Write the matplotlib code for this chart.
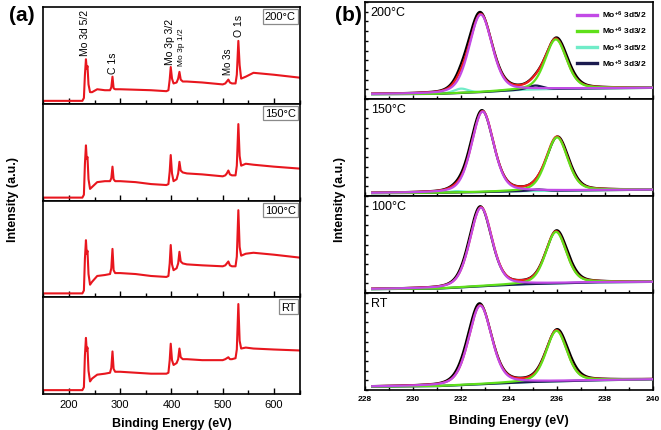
import numpy as np
import matplotlib
matplotlib.use("Agg")
import matplotlib.pyplot as plt
from matplotlib.ticker import MultipleLocator

plt.rcParams['font.family'] = ['Liberation Sans', 'DejaVu Sans']
plt.rcParams['mathtext.fontset'] = 'custom'
plt.rcParams['mathtext.rm'] = 'Liberation Sans:bold'
plt.rcParams['mathtext.it'] = 'Liberation Sans:bold'
plt.rcParams['mathtext.bf'] = 'Liberation Sans:bold'

# ---------------- (a) survey spectra ----------------
survey_labels = ['200°C', '150°C', '100°C', 'RT']
survey_ev = [150, 226, 229, 231, 233, 234.5, 236, 238, 241, 245, 255, 270, 280, 282.5,
             284.8, 287, 290, 300, 330, 360, 390, 394, 396.5, 398.5, 401, 404, 410, 413,
             415.5, 418, 422, 430, 460, 500, 505, 508, 511, 514, 518, 525, 527.5, 530.5,
             533, 536, 545, 560, 600, 650]
survey_200 = [0.03, 0.03, 0.06, 0.30, 0.46, 0.36, 0.39, 0.20, 0.12, 0.12, 0.15, 0.14, 0.14, 0.17,
              0.28, 0.16, 0.15, 0.15, 0.145, 0.14, 0.13, 0.14, 0.25, 0.38, 0.26, 0.21, 0.22, 0.26,
              0.33, 0.25, 0.23, 0.23, 0.22, 0.20, 0.21, 0.23, 0.25, 0.22, 0.21, 0.21, 0.30, 0.65,
              0.40, 0.26, 0.28, 0.32, 0.30, 0.27]
survey_150 = [0.03, 0.03, 0.06, 0.38, 0.57, 0.43, 0.45, 0.22, 0.12, 0.14, 0.19, 0.20, 0.20, 0.23,
              0.35, 0.22, 0.20, 0.20, 0.19, 0.17, 0.16, 0.17, 0.30, 0.47, 0.28, 0.20, 0.22, 0.28,
              0.40, 0.31, 0.29, 0.28, 0.27, 0.25, 0.26, 0.28, 0.31, 0.27, 0.26, 0.26, 0.36, 0.79,
              0.46, 0.36, 0.38, 0.37, 0.35, 0.33]
survey_100 = [0.04, 0.04, 0.07, 0.40, 0.59, 0.45, 0.48, 0.24, 0.13, 0.16, 0.22, 0.23, 0.24, 0.30,
              0.50, 0.28, 0.25, 0.25, 0.24, 0.22, 0.21, 0.22, 0.35, 0.54, 0.34, 0.28, 0.30, 0.35,
              0.47, 0.37, 0.35, 0.34, 0.33, 0.32, 0.33, 0.35, 0.37, 0.33, 0.32, 0.32, 0.42, 0.90,
              0.52, 0.43, 0.45, 0.46, 0.44, 0.41]
survey_rt = [0.04, 0.04, 0.07, 0.40, 0.58, 0.45, 0.48, 0.24, 0.13, 0.16, 0.20, 0.21, 0.22, 0.27,
             0.44, 0.26, 0.23, 0.23, 0.22, 0.21, 0.21, 0.22, 0.35, 0.52, 0.35, 0.30, 0.32, 0.36,
             0.47, 0.38, 0.36, 0.36, 0.35, 0.35, 0.36, 0.37, 0.38, 0.36, 0.36, 0.37, 0.46, 0.93,
             0.55, 0.47, 0.48, 0.47, 0.46, 0.45]
survey_series = [survey_200, survey_150, survey_100, survey_rt]

peak_names = ['Mo 3d 5/2', 'C 1s', 'Mo 3p 3/2', 'Mo 3p 1/2', 'Mo 3s', 'O 1s']
peak_name_ev = [232, 285, 398, 420, 511, 532]
peak_name_y = [0.50, 0.32, 0.41, 0.40, 0.31, 0.70]
peak_name_size = [7.5, 7.5, 7.5, 6, 7, 7.5]

# ---------------- (b) Mo 3d high resolution ----------------
hr_labels = ['200°C', '150°C', '100°C', 'RT']
comp_names = [r'Mo$^{+6}$ 3d5/2', r'Mo$^{+6}$ 3d3/2',
              r'Mo$^{+6}$ 3d5/2', r'Mo$^{+5}$ 3d3/2']
comp_colors = ['#c24ae6', '#5fe01a', '#70ecc8', '#1b1b4f']
# background (Shirley-like step) points per panel
bg_ev = [228.3, 231.0, 232.8, 234.5, 236.0, 237.5, 240.0]
bg_vals = [[0.05, 0.052, 0.07, 0.095, 0.105, 0.11, 0.115],
           [0.03, 0.032, 0.04, 0.05, 0.055, 0.06, 0.065],
           [0.04, 0.045, 0.07, 0.09, 0.10, 0.11, 0.115],
           [0.035, 0.04, 0.06, 0.08, 0.09, 0.10, 0.11]]
# component peak centres (eV), heights above background, FWHM (eV)
comp_center = [[232.82, 235.95, 232.0, 235.1],
               [232.9, 236.0, 231.8, 235.2],
               [232.83, 235.96, 232.0, 235.1],
               [232.8, 235.98, 232.0, 235.1]]
comp_height = [[0.80, 0.51, 0.045, 0.04],
               [0.83, 0.55, 0.015, 0.015],
               [0.81, 0.53, 0.0, 0.0],
               [0.81, 0.52, 0.0, 0.0]]
comp_fwhm = [[1.12, 1.05, 0.7, 0.7],
             [1.08, 1.05, 0.7, 0.7],
             [1.08, 1.02, 0.7, 0.7],
             [1.12, 1.02, 0.7, 0.7]]
# measured data (black) peak parameters
raw_height = [[0.82, 0.52], [0.84, 0.55], [0.82, 0.54], [0.83, 0.53]]
raw_fwhm = [[1.18, 1.10], [1.12, 1.08], [1.1, 1.07], [1.17, 1.09]]

def pvoigt(x, c, h, w, eta=0.3):
    g = np.exp(-4 * np.log(2) * ((x - c) / w) ** 2)
    l = 1.0 / (1.0 + 4 * ((x - c) / w) ** 2)
    return h * ((1 - eta) * g + eta * l)

fig = plt.figure(figsize=(6.61, 4.31), dpi=100)
gl = fig.add_gridspec(4, 1, left=0.0657, right=0.4532, bottom=0.0835, top=0.9814, hspace=0)
gr = fig.add_gridspec(4, 1, left=0.5522, right=0.9879, bottom=0.0928, top=0.993, hspace=0)

for i in range(4):
    ax = fig.add_subplot(gl[i, 0])
    ax.plot(survey_ev, survey_series[i], color='#e8161e', lw=1.5)
    ax.set_xlim(150, 650)
    ax.set_ylim(0, 1)
    ax.set_yticks([])
    ax.xaxis.set_major_locator(MultipleLocator(100))
    ax.xaxis.set_minor_locator(MultipleLocator(50))
    ax.tick_params(axis='x', which='major', direction='in', length=4, width=1, labelsize=8)
    ax.tick_params(axis='x', which='minor', direction='in', length=3, width=1)
    for s in ax.spines.values():
        s.set_linewidth(1.2)
    if i < 3:
        ax.tick_params(axis='x', labelbottom=False)
    ax.text(0.985, 0.955, survey_labels[i], transform=ax.transAxes, ha='right', va='top',
            fontsize=8, bbox=dict(boxstyle='square,pad=0.2', fc='white', ec='#8a8a8a', lw=0.9))
    if i == 0:
        for name, e, y, fs in zip(peak_names, peak_name_ev, peak_name_y, peak_name_size):
            ax.text(e, y, name, rotation=90, ha='center', va='bottom', fontsize=fs)
    if i == 3:
        ax.set_xlabel('Binding Energy (eV)', fontsize=9, fontweight='bold', labelpad=6)

x = np.linspace(228.3, 240.0, 600)
for i in range(4):
    ax = fig.add_subplot(gr[i, 0])
    bg = np.interp(x, bg_ev, bg_vals[i])
    comps = [bg + pvoigt(x, comp_center[i][k], comp_height[i][k], comp_fwhm[i][k]) for k in range(4)]
    env = bg + sum(pvoigt(x, comp_center[i][k], comp_height[i][k], comp_fwhm[i][k]) for k in range(4))
    raw = bg + pvoigt(x, comp_center[i][0] - 0.03, raw_height[i][0], raw_fwhm[i][0]) \
        + pvoigt(x, comp_center[i][1] + 0.03, raw_height[i][1], raw_fwhm[i][1]) \
        + pvoigt(x, comp_center[i][2], comp_height[i][2], comp_fwhm[i][2]) \
        + pvoigt(x, comp_center[i][3], comp_height[i][3], comp_fwhm[i][3])
    ax.plot(x, raw, color='black', lw=1.6, zorder=2)
    ax.plot(x, env, color='#ee1c1c', lw=1.6, zorder=3)
    order = [2, 3, 1, 0]
    handles = {}
    for k in order:
        h, = ax.plot(x, comps[k], color=comp_colors[k], lw=1.6, zorder=4 + order.index(k),
                     label=comp_names[k])
        handles[k] = h
    ax.set_xlim(228, 240)
    ax.set_ylim(0, 1)
    ax.xaxis.set_major_locator(MultipleLocator(2))
    ax.xaxis.set_minor_locator(MultipleLocator(1))
    ax.yaxis.set_major_locator(MultipleLocator(0.1))
    ax.tick_params(axis='y', direction='in', length=2.5, width=1, labelleft=False)
    ax.tick_params(axis='x', which='major', direction='in', length=3, width=1, labelsize=6)
    ax.tick_params(axis='x', which='minor', direction='in', length=2, width=1)
    for lab in ax.get_xticklabels():
        lab.set_fontweight('bold')
    for s in ax.spines.values():
        s.set_linewidth(1.2)
    if i < 3:
        ax.tick_params(axis='x', labelbottom=False)
    ax.text(0.02, 0.96, hr_labels[i], transform=ax.transAxes, ha='left', va='top', fontsize=9)
    if i == 0:
        leg = ax.legend([handles[k] for k in range(4)], [comp_names[k] for k in range(4)],
                        loc='upper right', frameon=False, prop={'size': 6, 'weight': 'bold'},
                        handlelength=2.4, labelspacing=0.6, borderaxespad=0.4,
                        handletextpad=0.6)
        for ln in leg.get_lines():
            ln.set_linewidth(2.4)
    if i == 3:
        ax.set_xlabel('Binding Energy (eV)', fontsize=9, fontweight='bold', labelpad=9)

fig.text(0.02, 0.536, 'Intensity (a.u.)', rotation=90, ha='center', va='center',
         fontsize=9, fontweight='bold')
fig.text(0.514, 0.536, 'Intensity (a.u.)', rotation=90, ha='center', va='center',
         fontsize=9, fontweight='bold')
fig.text(0.033, 0.965, '(a)', ha='center', va='center', fontsize=15, fontweight='bold')
fig.text(0.527, 0.965, '(b)', ha='center', va='center', fontsize=15, fontweight='bold')

fig.savefig('out.png', dpi=100)
